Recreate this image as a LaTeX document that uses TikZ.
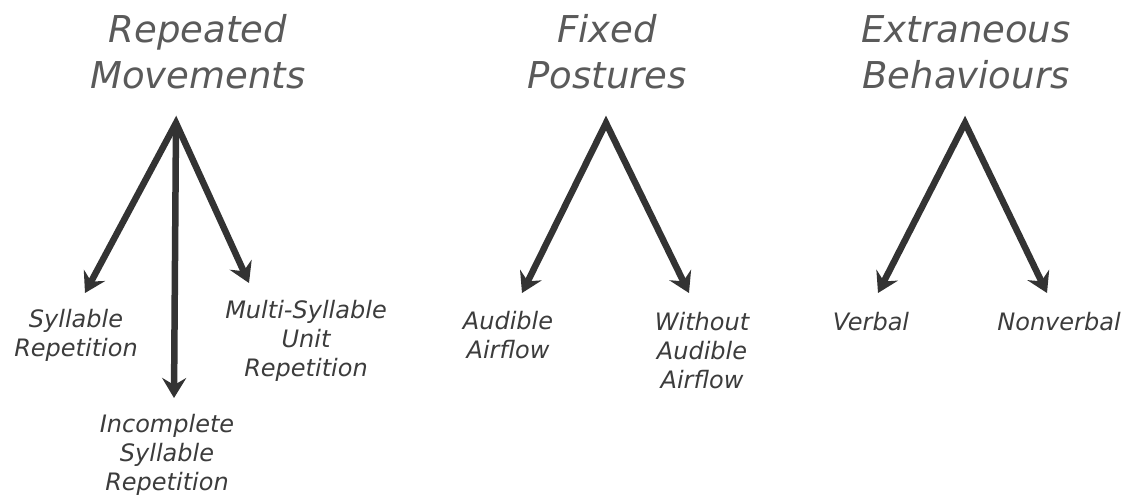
\documentclass[tikz,border=0pt]{standalone}
\usepackage{fontspec}
\setmainfont{DejaVu Sans}
\usetikzlibrary{arrows.meta}
\definecolor{titlegray}{HTML}{5A5A5A}
\definecolor{labelgray}{HTML}{3C3C3C}
\definecolor{arrowgray}{HTML}{333333}
\tikzset{
  titlenode/.style={inner sep=0pt, anchor=base, align=center, text=titlegray,
    font=\fontsize{37}{46}\selectfont\itshape},
  labelnode/.style={inner sep=0pt, anchor=base, align=center, text=labelgray,
    font=\fontsize{24}{29}\selectfont\itshape},
  tipshape/.style={},
  bigarrow/.style={draw=arrowgray, line width=6.5pt, line join=miter, miter limit=20,
    arrows={-Stealth[length=20pt,width=24pt,inset=7pt]}},
  biarrow/.style={draw=arrowgray, line width=6.5pt, line join=miter, miter limit=20,
    arrows={Stealth[length=20pt,width=24pt,inset=7pt]-Stealth[length=20pt,width=24pt,inset=7pt]}}
}
\begin{document}
\begin{tikzpicture}[x=1pt,y=-1pt]
\useasboundingbox (0,0) rectangle (1129,499);
% titles (anchor = baseline of last line)
\node[titlenode] (t1) at (198,88) {Repeated\\Movements};
\node[titlenode] (t2) at (607,88) {Fixed\\Postures};
\node[titlenode] (t3) at (966,88) {Extraneous\\Behaviours};
% apexes and tips
\coordinate (a1) at (176,123);
\coordinate (a1l) at (85,293);
\coordinate (a1m) at (174,398);
\coordinate (a1r) at (249,283);
\coordinate (a2) at (606,123);
\coordinate (a2l) at (522,293);
\coordinate (a2r) at (689,293);
\coordinate (a3) at (965,123);
\coordinate (a3l) at (878,293);
\coordinate (a3r) at (1047,293);
\draw[biarrow] (a1l) -- (a1) -- (a1r);
\draw[bigarrow] (a1) -- (a1m);
\draw[biarrow] (a2l) -- (a2) -- (a2r);
\draw[biarrow] (a3l) -- (a3) -- (a3r);
% labels (anchor = baseline of last line)
\node[labelnode] (l1) at (76,356) {Syllable\\Repetition};
\node[labelnode] (l2) at (167,490) {Incomplete\\Syllable\\Repetition};
\node[labelnode] (l3) at (306,376) {Multi-Syllable\\Unit\\Repetition};
\node[labelnode] (l4) at (508,358) {Audible\\Airflow};
\node[labelnode] (l5) at (702,388) {Without\\Audible\\Airflow};
\node[labelnode] (l6) at (871,330) {Verbal};
\node[labelnode] (l7) at (1059,330) {Nonverbal};
\end{tikzpicture}
\end{document}
